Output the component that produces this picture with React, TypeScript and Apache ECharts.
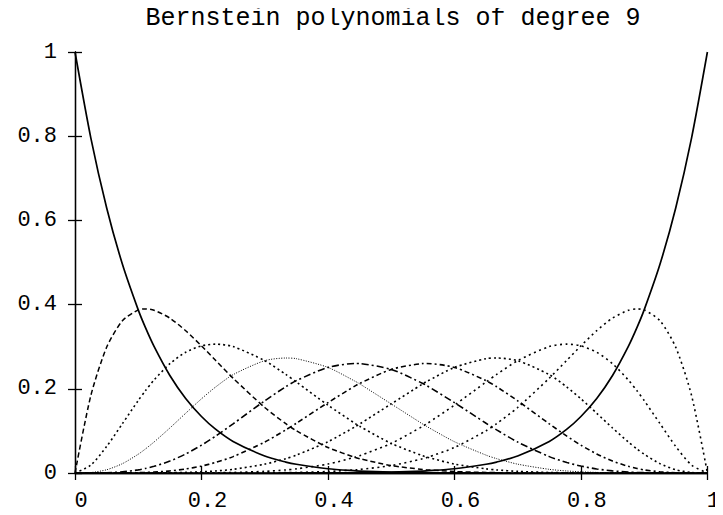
import React, { useEffect, useRef } from "react";
import * as echarts from "echarts";

const TITLE = "Bernstein polynomials of degree 9";
const xValues = [0, 0.025, 0.05, 0.075, 0.1, 0.1111, 0.125, 0.15, 0.175, 0.2, 0.2222, 0.25, 0.3, 0.3333, 0.35, 0.4, 0.4444, 0.45, 0.5, 0.55, 0.5556, 0.6, 0.65, 0.6667, 0.7, 0.75, 0.7778, 0.8, 0.825, 0.85, 0.875, 0.8889, 0.9, 0.925, 0.95, 0.975, 1];

const b0 = [1, 0.7962, 0.6302, 0.4958, 0.3874, 0.3464, 0.3007, 0.2316, 0.177, 0.1342, 0.1042, 0.0751, 0.0404, 0.026, 0.0207, 0.0101, 0.005, 0.0046, 0.002, 0.0008, 0.0007, 0.0003, 0.0001, 0.0001, 0, 0, 0, 0, 0, 0, 0, 0, 0, 0, 0, 0, 0];
const b1 = [0, 0.1837, 0.2985, 0.3618, 0.3874, 0.3897, 0.3866, 0.3679, 0.338, 0.302, 0.2678, 0.2253, 0.1556, 0.1171, 0.1004, 0.0605, 0.0363, 0.0339, 0.0176, 0.0083, 0.0076, 0.0035, 0.0013, 0.0009, 0.0004, 0.0001, 0, 0, 0, 0, 0, 0, 0, 0, 0, 0, 0];
const b2 = [0, 0.0188, 0.0629, 0.1173, 0.1722, 0.1949, 0.2209, 0.2597, 0.2868, 0.302, 0.3061, 0.3003, 0.2668, 0.2341, 0.2162, 0.1612, 0.1162, 0.111, 0.0703, 0.0407, 0.0381, 0.0212, 0.0098, 0.0073, 0.0039, 0.0012, 0.0006, 0.0003, 0.0001, 0, 0, 0, 0, 0, 0, 0, 0];
const b3 = [0, 0.0011, 0.0077, 0.0222, 0.0446, 0.0568, 0.0736, 0.1069, 0.1419, 0.1762, 0.2041, 0.2336, 0.2668, 0.2731, 0.2716, 0.2508, 0.2168, 0.2119, 0.1641, 0.1161, 0.111, 0.0743, 0.0424, 0.0341, 0.021, 0.0087, 0.0048, 0.0028, 0.0014, 0.0006, 0.0002, 0.0001, 0.0001, 0, 0, 0, 0];
const b4 = [0, 0, 0.0006, 0.0027, 0.0074, 0.0107, 0.0158, 0.0283, 0.0452, 0.0661, 0.0875, 0.1168, 0.1715, 0.2049, 0.2194, 0.2508, 0.2602, 0.26, 0.2461, 0.2128, 0.2082, 0.1672, 0.1181, 0.1024, 0.0735, 0.0389, 0.025, 0.0165, 0.0096, 0.005, 0.0023, 0.0013, 0.0008, 0.0002, 0, 0, 0];
const b5 = [0, 0, 0, 0.0002, 0.0008, 0.0013, 0.0023, 0.005, 0.0096, 0.0165, 0.025, 0.0389, 0.0735, 0.1024, 0.1181, 0.1672, 0.2082, 0.2128, 0.2461, 0.26, 0.2602, 0.2508, 0.2194, 0.2049, 0.1715, 0.1168, 0.0875, 0.0661, 0.0452, 0.0283, 0.0158, 0.0107, 0.0074, 0.0027, 0.0006, 0, 0];
const b6 = [0, 0, 0, 0, 0.0001, 0.0001, 0.0002, 0.0006, 0.0014, 0.0028, 0.0048, 0.0087, 0.021, 0.0341, 0.0424, 0.0743, 0.111, 0.1161, 0.1641, 0.2119, 0.2168, 0.2508, 0.2716, 0.2731, 0.2668, 0.2336, 0.2041, 0.1762, 0.1419, 0.1069, 0.0736, 0.0568, 0.0446, 0.0222, 0.0077, 0.0011, 0];
const b7 = [0, 0, 0, 0, 0, 0, 0, 0, 0.0001, 0.0003, 0.0006, 0.0012, 0.0039, 0.0073, 0.0098, 0.0212, 0.0381, 0.0407, 0.0703, 0.111, 0.1162, 0.1612, 0.2162, 0.2341, 0.2668, 0.3003, 0.3061, 0.302, 0.2868, 0.2597, 0.2209, 0.1949, 0.1722, 0.1173, 0.0629, 0.0188, 0];
const b8 = [0, 0, 0, 0, 0, 0, 0, 0, 0, 0, 0, 0.0001, 0.0004, 0.0009, 0.0013, 0.0035, 0.0076, 0.0083, 0.0176, 0.0339, 0.0363, 0.0605, 0.1004, 0.1171, 0.1556, 0.2253, 0.2678, 0.302, 0.338, 0.3679, 0.3866, 0.3897, 0.3874, 0.3618, 0.2985, 0.1837, 0];
const b9 = [0, 0, 0, 0, 0, 0, 0, 0, 0, 0, 0, 0, 0, 0.0001, 0.0001, 0.0003, 0.0007, 0.0008, 0.002, 0.0046, 0.005, 0.0101, 0.0207, 0.026, 0.0404, 0.0751, 0.1042, 0.1342, 0.177, 0.2316, 0.3007, 0.3464, 0.3874, 0.4958, 0.6302, 0.7962, 1];

const seriesValues = [b0, b1, b2, b3, b4, b5, b6, b7, b8, b9];
const seriesNames = ["b0", "b1", "b2", "b3", "b4", "b5", "b6", "b7", "b8", "b9"];
const dashStyles: any[] = [
  "solid",
  [5, 3],
  [2, 3],
  [1, 1.5],
  [7, 3, 2, 3],
  [5, 3, 2, 3],
  [2, 3],
  [2, 3.5],
  [2, 3.5],
  "solid",
];
const lineWidths = [1.7, 1.5, 1.6, 1.0, 1.6, 1.6, 1.6, 1.6, 1.6, 1.7];

const FONT = "'Liberation Mono', 'DejaVu Sans Mono', monospace";

export default function App() {
  const ref = useRef<HTMLDivElement>(null);
  useEffect(() => {
    if (!ref.current) return;
    const chart = echarts.init(ref.current, undefined, { renderer: "svg" });
    const axisLine = { show: true, lineStyle: { color: "#000", width: 1.3 } };
    const tick = { show: true, inside: true, length: 7, lineStyle: { color: "#000", width: 1.3 } };
    chart.setOption({
      animation: false,
      backgroundColor: "#fff",
      grid: { left: 75, right: 11, top: 52, bottom: 42, containLabel: false },
      graphic: [
        {
          type: "text",
          x: 393,
          y: 18,
          style: {
            text: TITLE,
            fill: "#000",
            font: `25px ${FONT}`,
            textAlign: "center",
            textVerticalAlign: "middle",
          },
        },
      ],
      xAxis: [
        {
          type: "value",
          position: "bottom",
          min: 0,
          max: 1,
          interval: 0.2,
          axisLine,
          axisTick: tick,
          splitLine: { show: false },
          axisLabel: {
            color: "#000",
            fontFamily: FONT,
            fontSize: 22,
            margin: 17,
            padding: [0, 0, 0, 12],
          },
        },
        {
          type: "value",
          position: "top",
          min: 0,
          max: 1,
          interval: 0.2,
          axisLine,
          axisTick: tick,
          splitLine: { show: false },
          axisLabel: { show: false },
        },
      ],
      yAxis: [
        {
          type: "value",
          position: "left",
          min: 0,
          max: 1,
          interval: 0.2,
          axisLine,
          axisTick: tick,
          splitLine: { show: false },
          axisLabel: {
            color: "#000",
            fontFamily: FONT,
            fontSize: 22,
            margin: 18,
          },
        },
        {
          type: "value",
          position: "right",
          min: 0,
          max: 1,
          interval: 0.2,
          axisLine,
          axisTick: tick,
          splitLine: { show: false },
          axisLabel: { show: false },
        },
      ],
      series: seriesValues.map((vals, i) => ({
        name: seriesNames[i],
        type: "line",
        xAxisIndex: 0,
        yAxisIndex: 0,
        data: vals.map((v, j) => [xValues[j], v]),
        showSymbol: false,
        symbol: "none",
        smooth: 0.25,
        lineStyle: { color: "#000", width: lineWidths[i], type: dashStyles[i] },
      })),
    });
    return () => chart.dispose();
  }, []);
  return <div ref={ref} style={{ width: 723, height: 515, margin: -8 }} />;
}
